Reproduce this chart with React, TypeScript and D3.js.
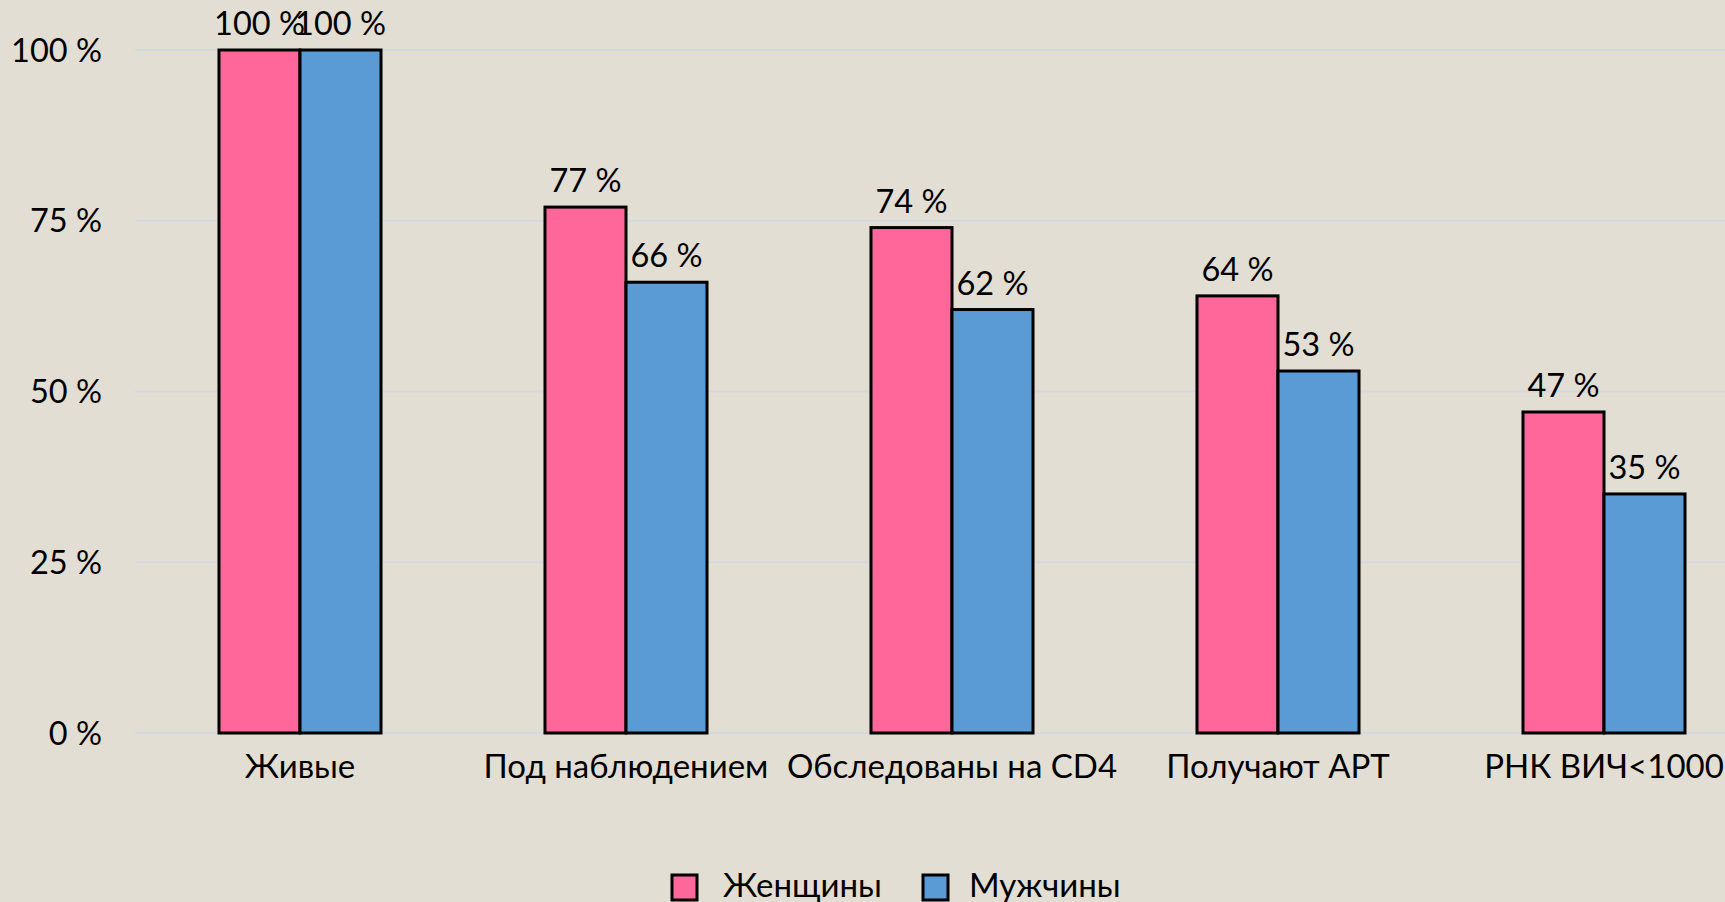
import React, { useEffect, useRef } from 'react';
import * as d3 from 'd3';

const categories = ['Живые', 'Под наблюдением', 'Обследованы на CD4', 'Получают АРТ', 'РНК ВИЧ<1000'];
const seriesNames = ['Женщины', 'Мужчины'];
const women = [100, 77, 74, 64, 47];
const men = [100, 66, 62, 53, 35];
const yTicks = [0, 25, 50, 75, 100];

const colors = ['#FF6699', '#5B9BD5'];
const bg = '#E3DED3';
const font = 'Lato, "Open Sans", sans-serif';

const App: React.FC = () => {
  const svgRef = useRef<SVGSVGElement>(null);

  useEffect(() => {
    if (!svgRef.current) return;
    const width = 1725;
    const height = 902;

    const svg = d3.select(svgRef.current);
    svg.selectAll('*').remove();
    svg.attr('width', width).attr('height', height);

    svg.append('rect').attr('width', width).attr('height', height).attr('fill', bg);

    const plotLeft = 135;
    const x0 = d3
      .scaleBand<string>()
      .domain(categories)
      .range([137, 1767])
      .paddingInner(0.503)
      .paddingOuter(0.2515);
    const x1 = d3.scaleBand<string>().domain(seriesNames).range([0, x0.bandwidth()]);
    const y = d3.scaleLinear().domain([0, 100]).range([733, 50]);

    // grid
    svg
      .append('g')
      .selectAll('line')
      .data(yTicks)
      .join('line')
      .attr('x1', plotLeft)
      .attr('x2', width)
      .attr('y1', (d) => y(d))
      .attr('y2', (d) => y(d))
      .attr('stroke', '#D5D8DF')
      .attr('stroke-width', 2);

    // y tick labels
    svg
      .append('g')
      .selectAll('text')
      .data(yTicks)
      .join('text')
      .attr('x', 102)
      .attr('y', (d) => y(d))
      .attr('dy', '0.36em')
      .attr('text-anchor', 'end')
      .attr('font-family', font)
      .attr('font-size', 32.5)
      .attr('fill', '#000')
      .text((d) => `${d} %`);

    const rows = categories.map((c, i) => ({ cat: c, vals: [women[i], men[i]] }));

    const groups = svg
      .append('g')
      .selectAll('g')
      .data(rows)
      .join('g')
      .attr('transform', (d) => `translate(${x0(d.cat)},0)`);

    groups
      .selectAll('rect')
      .data((d) => d.vals.map((v, j) => ({ name: seriesNames[j], v, j })))
      .join('rect')
      .attr('x', (d) => x1(d.name)!)
      .attr('y', (d) => y(d.v))
      .attr('width', x1.bandwidth())
      .attr('height', (d) => y(0) - y(d.v))
      .attr('fill', (d) => colors[d.j])
      .attr('stroke', '#000')
      .attr('stroke-width', 3);

    groups
      .selectAll('text')
      .data((d) => d.vals.map((v, j) => ({ name: seriesNames[j], v })))
      .join('text')
      .attr('x', (d) => x1(d.name)! + x1.bandwidth() / 2)
      .attr('y', (d) => y(d.v) - 15)
      .attr('text-anchor', 'middle')
      .attr('font-family', font)
      .attr('font-size', 32.5)
      .attr('fill', '#000')
      .text((d) => `${d.v} %`);

    // category labels
    svg
      .append('g')
      .selectAll('text')
      .data(categories)
      .join('text')
      .attr('x', (d) => x0(d)! + x0.bandwidth() / 2)
      .attr('y', 778)
      .attr('text-anchor', 'middle')
      .attr('font-family', font)
      .attr('font-size', 33)
      .attr('fill', '#000')
      .text((d) => d);

    // legend
    const legendItems = [
      { name: seriesNames[0], color: colors[0], sx: 672, tx: 723 },
      { name: seriesNames[1], color: colors[1], sx: 923, tx: 969 },
    ];
    const lg = svg.append('g');
    lg.selectAll('rect')
      .data(legendItems)
      .join('rect')
      .attr('x', (d) => d.sx)
      .attr('y', 875)
      .attr('width', 25)
      .attr('height', 25)
      .attr('fill', (d) => d.color)
      .attr('stroke', '#000')
      .attr('stroke-width', 3);
    lg.selectAll('text')
      .data(legendItems)
      .join('text')
      .attr('x', (d) => d.tx)
      .attr('y', 897)
      .attr('font-family', font)
      .attr('font-size', 33)
      .attr('fill', '#000')
      .text((d) => d.name);
  }, []);

  return (
    <div style={{ position: 'absolute', left: 0, top: 0, width: 1725, height: 902, overflow: 'hidden' }}>
      <svg ref={svgRef} style={{ display: 'block' }} role="img" aria-label="Каскад помощи при ВИЧ" />
    </div>
  );
};

export default App;
